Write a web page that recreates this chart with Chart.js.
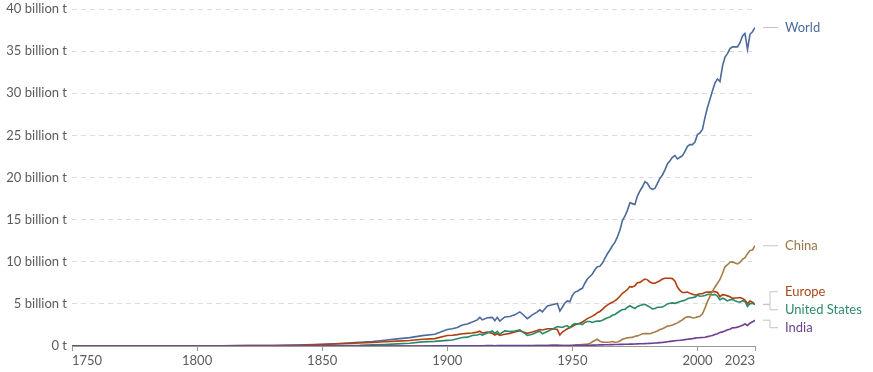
<!DOCTYPE html>
<html>
<head>
<meta charset="utf-8">
<script src="https://cdn.jsdelivr.net/npm/chart.js@4/dist/chart.umd.min.js"></script>
<style>
  html, body { margin: 0; padding: 0; background: #fff; }
  #wrap { width: 873px; height: 372px; }
</style>
</head>
<body>
<div id="wrap"><canvas id="co2Chart" width="873" height="372"></canvas></div>
<script>
// years: sparse before 1950, annual after
const years = [
  1750, 1760, 1770, 1780, 1790, 1800, 1810, 1820, 1830, 1840, 1850,
  1855, 1860, 1865, 1870, 1875, 1880, 1885, 1890, 1895,
  1900, 1902, 1904, 1906, 1908, 1910, 1912, 1913, 1914, 1916, 1918, 1919, 1920, 1921, 1923, 1925,
  1927, 1929, 1930, 1932, 1934, 1936, 1937, 1938, 1940, 1942, 1944, 1945, 1946, 1947, 1948, 1949,
  1950, 1951, 1952, 1953, 1954, 1955, 1956, 1957, 1958, 1959,
  1960, 1961, 1962, 1963, 1964, 1965, 1966, 1967, 1968, 1969,
  1970, 1971, 1972, 1973, 1974, 1975, 1976, 1977, 1978, 1979,
  1980, 1981, 1982, 1983, 1984, 1985, 1986, 1987, 1988, 1989,
  1990, 1991, 1992, 1993, 1994, 1995, 1996, 1997, 1998, 1999,
  2000, 2001, 2002, 2003, 2004, 2005, 2006, 2007, 2008, 2009,
  2010, 2011, 2012, 2013, 2014, 2015, 2016, 2017, 2018, 2019,
  2020, 2021, 2022, 2023,
];

// billion tonnes
const world = [
  0.009, 0.010, 0.012, 0.014, 0.019, 0.028, 0.036, 0.044, 0.068, 0.110, 0.200,
  0.27, 0.36, 0.45, 0.53, 0.68, 0.85, 0.99, 1.23, 1.40,
  1.95, 2.05, 2.20, 2.50, 2.62, 2.85, 3.10, 3.40, 3.10, 3.35, 3.40, 3.00, 3.40, 2.95, 3.45, 3.50,
  3.70, 4.05, 3.80, 3.25, 3.70, 4.05, 4.30, 4.05, 4.75, 4.90, 5.05, 4.15, 4.60, 5.10, 5.35, 5.25,
  6.00, 6.40, 6.50, 6.70, 6.85, 7.45, 7.95, 8.25, 8.55, 9.05,
  9.40, 9.45, 9.85, 10.40, 10.95, 11.40, 11.90, 12.30, 12.95, 13.75,
  14.90, 15.40, 16.10, 17.00, 16.90, 16.80, 17.80, 18.40, 18.90, 19.50,
  19.30, 18.80, 18.60, 18.70, 19.30, 19.90, 20.30, 20.90, 21.60, 22.00,
  22.40, 22.60, 22.20, 22.40, 22.60, 23.10, 23.70, 23.90, 23.90, 24.20,
  25.10, 25.30, 25.70, 27.10, 28.30, 29.30, 30.30, 31.20, 31.70, 31.40,
  33.20, 34.30, 34.70, 35.30, 35.50, 35.50, 35.50, 36.00, 36.80, 37.10,
  35.20, 37.00, 37.30, 37.80,
];
const europe = [
  0.009, 0.010, 0.011, 0.013, 0.017, 0.025, 0.032, 0.040, 0.060, 0.095, 0.17,
  0.23, 0.29, 0.36, 0.42, 0.50, 0.58, 0.66, 0.80, 0.88,
  1.25, 1.28, 1.35, 1.45, 1.50, 1.55, 1.65, 1.75, 1.55, 1.65, 1.50, 1.30, 1.45, 1.25, 1.40, 1.50,
  1.65, 1.80, 1.70, 1.50, 1.65, 1.85, 1.95, 1.90, 2.05, 2.05, 1.95, 1.30, 1.65, 1.85, 2.05, 2.20,
  2.30, 2.50, 2.60, 2.70, 2.85, 3.05, 3.25, 3.40, 3.55, 3.70,
  3.95, 4.10, 4.35, 4.65, 4.85, 5.05, 5.20, 5.35, 5.60, 5.90,
  6.25, 6.45, 6.70, 7.05, 7.00, 7.15, 7.50, 7.55, 7.75, 7.95,
  7.85, 7.60, 7.45, 7.45, 7.60, 7.75, 7.95, 8.05, 8.05, 8.05,
  8.00, 7.70, 7.00, 6.60, 6.35, 6.35, 6.40, 6.25, 6.15, 6.05,
  6.10, 6.20, 6.20, 6.35, 6.40, 6.40, 6.45, 6.45, 6.35, 5.85,
  6.10, 6.05, 5.95, 5.85, 5.65, 5.70, 5.70, 5.75, 5.65, 5.45,
  5.00, 5.35, 5.20, 4.95,
];
const unitedStates = [
  0.0, 0.0, 0.0001, 0.0002, 0.0005, 0.0006, 0.002, 0.004, 0.008, 0.015, 0.033,
  0.05, 0.055, 0.075, 0.13, 0.18, 0.25, 0.33, 0.49, 0.55,
  0.67, 0.72, 0.86, 1.00, 1.05, 1.25, 1.30, 1.42, 1.30, 1.55, 1.80, 1.50, 1.75, 1.40, 1.80, 1.72,
  1.78, 1.92, 1.70, 1.25, 1.40, 1.65, 1.75, 1.45, 1.72, 2.00, 2.30, 2.25, 2.20, 2.35, 2.40, 2.15,
  2.50, 2.65, 2.60, 2.65, 2.55, 2.80, 2.90, 2.90, 2.80, 2.90,
  2.95, 2.95, 3.05, 3.20, 3.35, 3.45, 3.65, 3.75, 3.95, 4.15,
  4.33, 4.35, 4.60, 4.78, 4.60, 4.45, 4.70, 4.82, 4.90, 4.95,
  4.78, 4.62, 4.40, 4.45, 4.60, 4.60, 4.62, 4.80, 5.00, 5.08,
  5.12, 5.06, 5.17, 5.27, 5.36, 5.42, 5.61, 5.69, 5.74, 5.80,
  6.01, 5.90, 5.94, 6.00, 6.11, 6.13, 6.05, 6.13, 5.91, 5.48,
  5.68, 5.55, 5.35, 5.48, 5.53, 5.38, 5.25, 5.21, 5.38, 5.26,
  4.71, 5.03, 5.06, 4.91,
];
const china = [
  0, 0, 0, 0, 0, 0, 0, 0, 0, 0, 0,
  0, 0, 0, 0, 0, 0, 0, 0, 0,
  0.001, 0.002, 0.003, 0.004, 0.005, 0.007, 0.010, 0.012, 0.012, 0.014, 0.016, 0.016, 0.018, 0.018, 0.022, 0.024,
  0.026, 0.030, 0.032, 0.034, 0.038, 0.045, 0.050, 0.055, 0.065, 0.080, 0.085, 0.035, 0.040, 0.050, 0.060, 0.065,
  0.08, 0.10, 0.13, 0.14, 0.18, 0.20, 0.22, 0.29, 0.50, 0.66,
  0.80, 0.56, 0.44, 0.44, 0.44, 0.48, 0.53, 0.44, 0.47, 0.58,
  0.80, 0.90, 0.96, 1.00, 1.02, 1.16, 1.20, 1.32, 1.46, 1.49,
  1.47, 1.45, 1.57, 1.65, 1.78, 1.95, 2.06, 2.20, 2.36, 2.41,
  2.48, 2.61, 2.74, 2.94, 3.10, 3.35, 3.46, 3.47, 3.32, 3.36,
  3.46, 3.53, 3.82, 4.50, 5.26, 5.90, 6.50, 7.00, 7.45, 7.90,
  8.60, 9.40, 9.65, 9.95, 9.98, 9.85, 9.75, 9.92, 10.29, 10.49,
  10.96, 11.34, 11.40, 11.90,
];
const india = [
  0, 0, 0, 0, 0, 0, 0, 0, 0, 0, 0,
  0.001, 0.001, 0.002, 0.002, 0.003, 0.004, 0.006, 0.008, 0.010,
  0.016, 0.017, 0.019, 0.022, 0.025, 0.028, 0.031, 0.034, 0.036, 0.040, 0.042, 0.038, 0.045, 0.044, 0.046, 0.050,
  0.053, 0.056, 0.055, 0.050, 0.052, 0.058, 0.062, 0.064, 0.068, 0.070, 0.074, 0.072, 0.066, 0.064, 0.066, 0.068,
  0.067, 0.070, 0.072, 0.073, 0.075, 0.080, 0.085, 0.095, 0.100, 0.108,
  0.120, 0.128, 0.138, 0.148, 0.150, 0.163, 0.165, 0.172, 0.182, 0.188,
  0.194, 0.200, 0.210, 0.218, 0.222, 0.238, 0.253, 0.262, 0.268, 0.282,
  0.293, 0.312, 0.328, 0.350, 0.367, 0.402, 0.428, 0.461, 0.502, 0.545,
  0.579, 0.615, 0.648, 0.676, 0.715, 0.757, 0.800, 0.847, 0.868, 0.935,
  0.978, 0.994, 1.017, 1.045, 1.113, 1.176, 1.252, 1.368, 1.462, 1.615,
  1.678, 1.771, 1.925, 1.996, 2.148, 2.161, 2.239, 2.335, 2.456, 2.617,
  2.442, 2.703, 2.870, 3.062,
];

const xTicks = [1750, 1800, 1850, 1900, 1950, 2000, 2023];
const yTicks = [0, 5, 10, 15, 20, 25, 30, 35, 40];

const seriesNames = ['India', 'China', 'United States', 'Europe', 'World'];
const seriesValues = [india, china, unitedStates, europe, world];
const lineColors = ['#6D3E91', '#A67C48', '#2A8A66', '#B13E10', '#4C6A9C'];
const textColors = ['#6D3E91', '#9C7444', '#2E8A68', '#A94A1C', '#4C6A9C'];

const FONT = 'Lato, "Open Sans", sans-serif';

// подписи серий справа с выносками
const endLabels = {
  id: 'endLabels',
  afterDatasetsDraw(chart) {
    const { ctx } = chart;
    const items = chart.data.datasets.map((ds, i) => {
      const pts = chart.getDatasetMeta(i).data;
      const y = pts[pts.length - 1].y;
      return { name: ds.label, color: textColors[i], y, ly: y };
    }).sort((a, b) => a.y - b.y);
    // раздвигаем наложившиеся подписи
    const gap = 18;
    const groups = items.map((it) => [it]);
    const place = (g) => {
      const mid = g.reduce((s, it) => s + it.y, 0) / g.length;
      g.forEach((it, k) => { it.ly = mid + (k - (g.length - 1) / 2) * gap; });
    };
    groups.forEach(place);
    let merged = true;
    while (merged) {
      merged = false;
      for (let i = 0; i < groups.length - 1; i += 1) {
        const a = groups[i];
        const b = groups[i + 1];
        if (b[0].ly - a[a.length - 1].ly < gap) {
          groups.splice(i, 2, a.concat(b));
          place(groups[i]);
          merged = true;
          break;
        }
      }
    }
    const x0 = chart.chartArea.right + 8;
    const xm = x0 + 7;
    const x1 = x0 + 15;
    ctx.save();
    ctx.strokeStyle = '#c4c4c4';
    ctx.lineWidth = 1;
    ctx.font = '13px ' + FONT;
    ctx.textBaseline = 'middle';
    items.forEach((it) => {
      ctx.beginPath();
      if (Math.abs(it.ly - it.y) < 0.5) {
        ctx.moveTo(x0, it.y);
        ctx.lineTo(x1, it.y);
      } else {
        ctx.moveTo(x0, it.y);
        ctx.lineTo(xm, it.y);
        ctx.lineTo(xm, it.ly);
        ctx.lineTo(x1, it.ly);
      }
      ctx.stroke();
      ctx.fillStyle = it.color;
      ctx.fillText(it.name, x1 + 7, it.ly);
    });
    ctx.restore();
  },
};

const datasets = seriesNames.map((name, i) => ({
  label: name,
  data: years.map((yr, k) => ({ x: yr, y: seriesValues[i][k] })),
  borderColor: lineColors[i],
  backgroundColor: lineColors[i],
  borderWidth: 1.6,
  pointRadius: 0,
  tension: 0,
  fill: false,
}));

new Chart(document.getElementById('co2Chart'), {
  type: 'line',
  data: { datasets },
  options: {
    responsive: false,
    animation: false,
    layout: { padding: { top: 9, right: 118, bottom: 0, left: 0 } },
    plugins: {
      legend: { display: false },
      tooltip: { enabled: false },
    },
    scales: {
      x: {
        type: 'linear',
        min: 1750,
        max: 2023,
        afterBuildTicks: (scale) => { scale.ticks = xTicks.map((v) => ({ value: v })); },
        afterFit: (scale) => { scale.height = 26; },
        ticks: {
          autoSkip: false,
          maxRotation: 0,
          align: 'inner',
          padding: 2,
          color: '#5b5b5b',
          font: { family: FONT, size: 13 },
          callback: (v) => String(v),
        },
        grid: { drawOnChartArea: false, drawTicks: true, tickLength: 5, color: '#999' },
        border: { display: true, color: '#999' },
      },
      y: {
        min: 0,
        max: 40,
        afterBuildTicks: (scale) => { scale.ticks = yTicks.map((v) => ({ value: v })); },
        afterFit: (scale) => {
          scale.width = 72;
          scale.paddingTop = 0;
          scale.paddingBottom = 0;
        },
        ticks: {
          padding: 5,
          color: '#5b5b5b',
          font: { family: FONT, size: 13 },
          callback: (v) => (v === 0 ? '0 t' : v + ' billion t'),
        },
        grid: { drawTicks: false, color: '#dcdcdc', lineWidth: 1 },
        border: { display: false, dash: [5, 4] },
      },
    },
  },
  plugins: [endLabels],
});
</script>
</body>
</html>
